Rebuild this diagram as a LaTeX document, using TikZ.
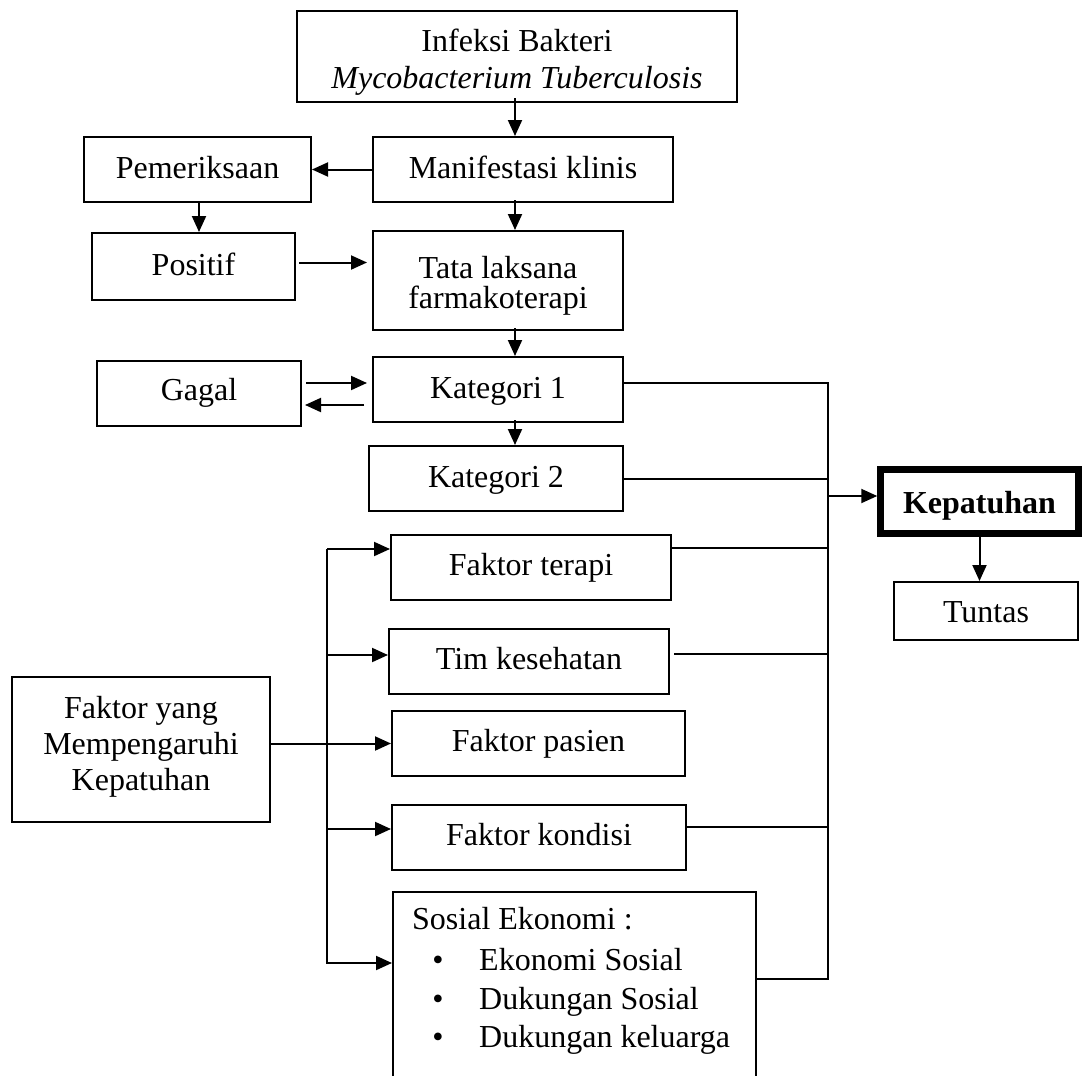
\documentclass[tikz,border=0pt]{standalone}
\usepackage{fontspec}
\setmainfont{Liberation Serif}
\usetikzlibrary{arrows.meta,calc}
\begin{document}
\begin{tikzpicture}[x=1pt,y=-1pt,
 box/.style={draw,line width=2pt,rectangle,inner sep=4pt,align=center,font=\fontsize{32}{37}\selectfont},
 one/.style={text height=23pt,text depth=6pt},
 txt/.style={inner sep=0pt,font=\fontsize{32}{37}\selectfont},
 arr/.style={line width=2pt,-{Triangle[length=16pt,width=14pt]}},
 ln/.style={line width=2pt}]
\useasboundingbox (0,0) rectangle (1082,1076);
\fill[white] (0,0) rectangle (1082,1076);
\clip (0,0) rectangle (1082,1076);

% boxes
\node[box,text height=70pt,text depth=7pt,minimum width=440pt,minimum height=91pt] (inf) at (517,56.5) {Infeksi Bakteri\\\textit{Mycobacterium Tuberculosis}};
\node[box,one,minimum width=300pt,minimum height=65pt] (man) at (523,169.5) {Manifestasi klinis};
\node[box,one,minimum width=227pt,minimum height=65pt] (pem) at (197.5,169.5) {Pemeriksaan};
\node[box,text height=62pt,text depth=7pt,minimum width=250pt,minimum height=99pt,font=\fontsize{32}{30}\selectfont] (tata) at (498,280.5) {Tata laksana\\farmakoterapi};
\node[box,one,minimum width=203pt,minimum height=67pt] (pos) at (193.5,266.5) {Positif};
\node[box,one,minimum width=250pt,minimum height=65pt] (kat1) at (498,389.5) {Kategori 1};
\node[box,text height=21pt,text depth=8pt,minimum width=204pt,minimum height=65pt] (gag) at (199,393.5) {Gagal};
\node[box,one,minimum width=254pt,minimum height=65pt] (kat2) at (496,478.5) {Kategori 2};
\node[box,text height=27pt,text depth=4pt,line width=6.5pt,minimum width=198pt,minimum height=64pt,font=\fontsize{32}{37}\selectfont\bfseries] (kep) at (979.5,501.5) {Kepatuhan};
\node[box,text height=26pt,text depth=4pt,minimum width=184pt,minimum height=58pt] (tun) at (986,611) {Tuntas};
\node[box,text height=22pt,text depth=7pt,minimum width=280pt,minimum height=65pt] (fter) at (531,567.5) {Faktor terapi};
\node[box,text height=22pt,text depth=7pt,minimum width=280pt,minimum height=65pt] (tim) at (529,661.5) {Tim kesehatan};
\node[box,text height=22pt,text depth=7pt,minimum width=293pt,minimum height=65pt] (fpas) at (538.5,743.5) {Faktor pasien};
\node[box,text height=88pt,text depth=7pt,font=\fontsize{32}{36}\selectfont,minimum width=258pt,minimum height=145pt] (fyang) at (141,749.5) {Faktor yang\\Mempengaruhi\\Kepatuhan};
\node[box,text height=22pt,text depth=7pt,minimum width=294pt,minimum height=65pt] (fkon) at (539,837.5) {Faktor kondisi};
\node[box,anchor=north west,minimum width=363pt,minimum height=250pt] (sos) at (392,891) {};

% text of the Sosial Ekonomi box
\node[txt,anchor=base west] (st0) at (412,929) {Sosial Ekonomi :};
\node[txt,anchor=base] (b1) at (438,970) {•};
\node[txt,anchor=base] (b2) at (438,1009) {•};
\node[txt,anchor=base] (b3) at (438,1047) {•};
\node[txt,anchor=base west] (st1) at (479,970) {Ekonomi Sosial};
\node[txt,anchor=base west] (st2) at (479,1009) {Dukungan Sosial};
\node[txt,anchor=base west] (st3) at (479,1047) {Dukungan keluarga};

% top chain
\coordinate (cx) at (515,0);
\coordinate (px) at (199,0);
\draw[arr] ($(inf.south -| cx)+(0,-5)$) -- (man.north -| cx);
\draw[arr] (man.west) -- (pem.east);
\draw[arr] (pem.south -| px) -- (pos.north -| px);
\draw[arr] ($(pos.east)+(3,-4)$) -- ($(pos.east -| tata.west)+(-5,-4)$);
\draw[arr] ($(man.south -| cx)+(0,-3)$) -- (tata.north -| cx);
\draw[arr] ($(tata.south -| cx)+(0,-3)$) -- (kat1.north -| cx);
\draw[arr] ($(kat1.south -| cx)+(0,-3)$) -- (kat2.north -| cx);
\draw[arr] ($(gag.east)+(4,-10.5)$) -- ($(gag.east -| kat1.west)+(-5,-10.5)$);
\draw[arr] ($(gag.east -| kat1.west)+(-8,11.5)$) -- ($(gag.east)+(3,11.5)$);

% right bus
\coordinate (bus) at (828,0);
\draw[ln] ($(kat1.east)+(0,-6.5)$) -- ($(kat1.east -| bus)+(0,-6.5)$) -- ($(sos.north east -| bus)+(0,88)$) -- ($(sos.north east)+(0,88)$);
\draw[ln] (kat2.east) -- (kat2.east -| bus);
\draw[ln] ($(fter.east)+(0,-19.5)$) -- ($(fter.east -| bus)+(0,-19.5)$);
\draw[ln] ($(tim.east)+(4,-7.5)$) -- ($(tim.east -| bus)+(0,-7.5)$);
\draw[ln] ($(fkon.east)+(0,-10.5)$) -- ($(fkon.east -| bus)+(0,-10.5)$);
\draw[arr] ($(kep.west -| bus)+(0,-5.5)$) -- ($(kep.west)+(0,-5.5)$);
\draw[arr] ($(kep.south)+(0,-3)$) -- (kep.south |- tun.north);

% left bus
\coordinate (lb) at (327,0);
\draw[ln] ($(fter.west -| lb)+(0,-18.5)$) -- ($(sos.north west -| lb)+(0,71)$);
\draw[arr] ($(fter.west -| lb)+(0,-18.5)$) -- ($(fter.west)+(0,-18.5)$);
\draw[arr] ($(tim.west -| lb)+(0,-6.5)$) -- ($(tim.west)+(0,-6.5)$);
\draw[arr] (fyang.east |- fpas.west) -- (fpas.west);
\draw[arr] ($(fkon.west -| lb)+(0,-8.5)$) -- ($(fkon.west)+(0,-8.5)$);
\draw[arr] ($(sos.north west -| lb)+(-1,72)$) -- ($(sos.north west)+(0,72)$);
\end{tikzpicture}
\end{document}
